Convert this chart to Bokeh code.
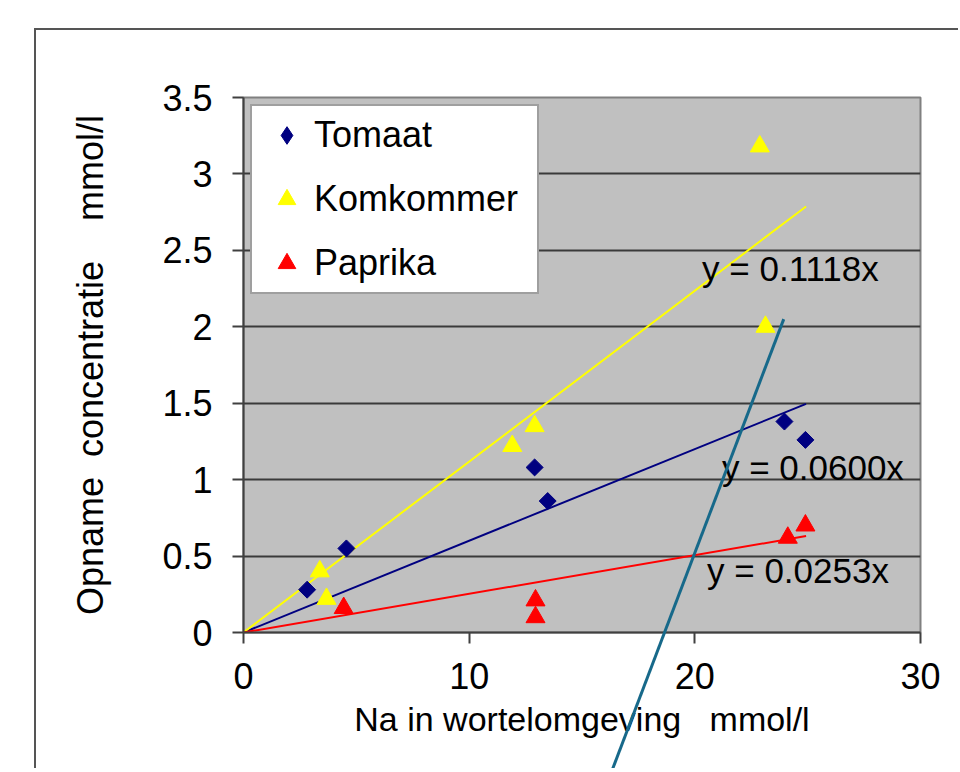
import math
from bokeh.plotting import figure
from bokeh.models import (ColumnDataSource, Legend, LegendItem, FixedTicker, Range1d)
from bokeh.embed import file_html
from bokeh.resources import INLINE
from bokeh.core.properties import value

# ---------------- data ----------------
series_names = ["Tomaat", "Komkommer", "Paprika"]
series_colors = ["#000080", "#FFFF00", "#FF0000"]

tomaat_x = [2.82, 4.56, 12.9, 13.48, 23.97, 24.9]
tomaat_y = [0.28, 0.55, 1.08, 0.86, 1.38, 1.26]
komkommer_x = [3.38, 3.68, 11.91, 12.9, 22.88, 23.13]
komkommer_y = [0.40, 0.22, 1.22, 1.35, 3.18, 2.00]
paprika_x = [4.44, 12.94, 12.94, 24.12, 24.9]
paprika_y = [0.16, 0.21, 0.10, 0.62, 0.70]

trend_slopes = [0.0600, 0.1118, 0.0253]
trend_labels = ["y = 0.0600x", "y = 0.1118x", "y = 0.0253x"]
trend_x_end = 24.93

teal_line_x = [23.94, 16.08]
teal_line_y = [2.05, -1.0]

x_ticks = [0, 10, 20, 30]
y_ticks = [0, 0.5, 1, 1.5, 2, 2.5, 3, 3.5]
y_tick_labels = ["0", "0.5", "1", "1.5", "2", "2.5", "3", "3.5"]

x_label = "Na in wortelomgeving\u00a0\u00a0\u00a0mmol/l"
y_label = "Opname\u00a0\u00a0concentratie\u00a0\u00a0\u00a0\u00a0mmol/l"

FONT = "Liberation Sans"

# ---------------- figure ----------------
p = figure(width=924, height=740, x_range=Range1d(0, 30), y_range=Range1d(0, 3.5),
           output_backend="svg", toolbar_location=None,
           min_border_left=207, min_border_right=40, min_border_top=67, min_border_bottom=138)
p.margin = (28, 0, 0, 34)
p.styles = {"border-left": "2px solid #555555", "border-top": "2px solid #555555"}
p.background_fill_color = "#C0C0C0"
p.border_fill_color = "white"
p.outline_line_color = "#808080"
p.outline_line_width = 2

p.xgrid.visible = False
p.ygrid.ticker = FixedTicker(ticks=y_ticks[1:-1])
p.ygrid.grid_line_color = "#3A3A3A"
p.ygrid.grid_line_width = 2

p.xaxis.ticker = FixedTicker(ticks=x_ticks)
p.yaxis.ticker = FixedTicker(ticks=y_ticks)
p.yaxis.major_label_overrides = {float(t): s for t, s in zip(y_ticks, y_tick_labels)}

for ax in (p.xaxis[0], p.yaxis[0]):
    ax.axis_line_color = "#404040"
    ax.axis_line_width = 2
    ax.major_tick_line_color = "#404040"
    ax.major_tick_line_width = 2
    ax.major_tick_out = 11
    ax.major_tick_in = 0
    ax.minor_tick_line_color = None
    ax.major_label_text_font = FONT
    ax.major_label_text_font_size = "36px"
    ax.major_label_text_color = "black"
    ax.axis_label_text_font = FONT
    ax.axis_label_text_font_style = "normal"
    ax.axis_label_text_color = "black"

p.xaxis.major_label_standoff = 19
p.xaxis.axis_label = x_label
p.xaxis.axis_label_text_font_size = "34px"
p.xaxis.axis_label_standoff = 8

p.yaxis.major_label_standoff = 20
p.yaxis.axis_label = y_label
p.yaxis.axis_label_text_font_size = "36px"
p.yaxis.axis_label_standoff = 48

# ---------------- trend lines ----------------
for slope, col in zip(trend_slopes, series_colors):
    p.line([0, trend_x_end], [0, slope * trend_x_end], line_color=col, line_width=2)

# ---------------- points ----------------
# diamond-marker copy of Tomaat (fully hidden under the rotated squares) used for the legend,
# because the legend does not apply a marker's rotation angle
r_t_legend = p.scatter(tomaat_x, tomaat_y, marker="diamond", size=12, color=series_colors[0])
r_t = p.scatter(tomaat_x, tomaat_y, marker="square", size=12, angle=math.pi / 4,
                color=series_colors[0])
r_k = p.scatter(komkommer_x, komkommer_y, marker="triangle", size=19, color=series_colors[1])
r_p = p.scatter(paprika_x, paprika_y, marker="triangle", size=19, color=series_colors[2])

# ---------------- equation labels ----------------
eq_src = ColumnDataSource(dict(x=[21.2, 20.32, 20.54], y=[1.08, 2.38, 0.405], t=trend_labels))
p.text(x="x", y="y", text="t", source=eq_src, text_font=value(FONT), text_font_size="35px",
       text_color="black", text_baseline="middle", text_align="left")

# ---------------- hand-drawn teal line (drawn over everything, unclipped) ----------------
p.line(teal_line_x, teal_line_y, line_color="#17698A", line_width=3, level="overlay")

# ---------------- legend ----------------
legend = Legend(items=[LegendItem(label=series_names[0], renderers=[r_t_legend]),
                       LegendItem(label=series_names[1], renderers=[r_k]),
                       LegendItem(label=series_names[2], renderers=[r_p])],
                location="top_left")
legend.margin = 7
legend.padding = 7
legend.spacing = 20
legend.glyph_width = 55
legend.glyph_height = 44
legend.label_height = 44
legend.label_width = 216
legend.label_standoff = 0
legend.label_text_font = FONT
legend.label_text_font_size = "36px"
legend.label_text_color = "black"
legend.border_line_color = "#404040"
legend.border_line_width = 2
legend.background_fill_color = "white"
legend.background_fill_alpha = 1
p.add_layout(legend)

open("out.html", "w").write(file_html(p, INLINE))
